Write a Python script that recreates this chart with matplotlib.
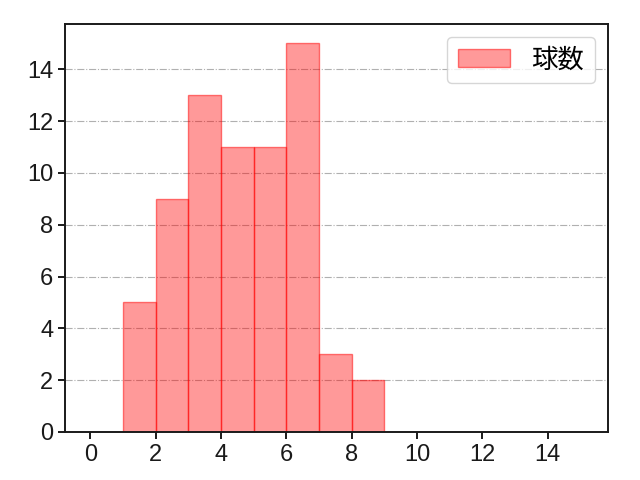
import matplotlib.pyplot as plt
import numpy as np

plt.rcParams['font.family'] = ['Liberation Sans', 'Noto Sans CJK JP']
plt.rcParams['axes.linewidth'] = 1.4
plt.rcParams['xtick.major.width'] = 1.4
plt.rcParams['ytick.major.width'] = 1.4
plt.rcParams['xtick.major.size'] = 5
plt.rcParams['ytick.major.size'] = 5

# 球数 histogram
bin_edges = [1, 2, 3, 4, 5, 6, 7, 8, 9]
counts = [5, 9, 13, 11, 11, 15, 3, 2]
label = "球数"

fig, ax = plt.subplots(figsize=(6.4, 4.8), dpi=100)
fig.subplots_adjust(left=0.1016, right=0.95, top=0.95, bottom=0.1)
ax.hist(bin_edges[:-1], bins=bin_edges, weights=counts,
        facecolor=(1, 0, 0, 0.4), edgecolor=(1, 0, 0, 0.5), linewidth=1,
        label=label)

ax.set_xlim(-0.77, 15.84)
ax.set_xticks(np.arange(0, 16, 2))
ax.grid(axis='y', linestyle='-.', color='#b0b0b0')
ax.set_axisbelow(True)
ax.tick_params(labelsize=17, color='#1a1a1a', labelcolor='#1a1a1a')
for s in ax.spines.values():
    s.set_color('#1a1a1a')
ax.legend(fontsize=19, loc='upper right')
fig.savefig("out.png")
